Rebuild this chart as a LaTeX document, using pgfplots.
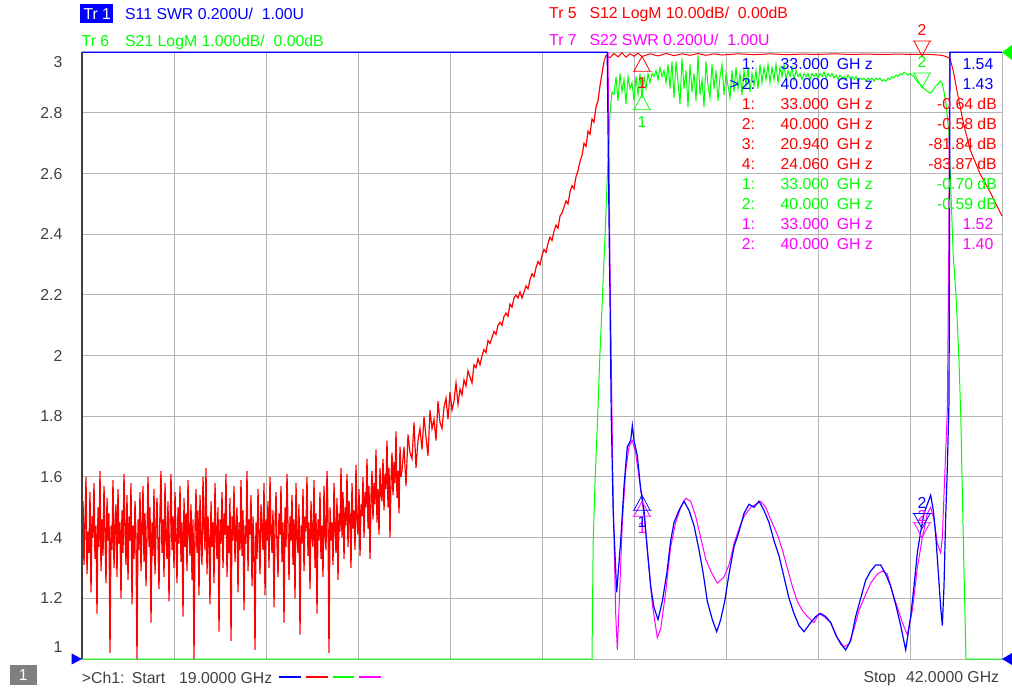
\documentclass[border=0pt]{standalone}
\usepackage{fontspec}
\setmainfont{Liberation Sans}
\usepackage{pgfplots}
\pgfplotsset{compat=1.18}
\usepackage{pgfplotstable}
\definecolor{tblue}{RGB}{0,0,255}
\definecolor{tred}{RGB}{255,0,0}
\definecolor{tgreen}{RGB}{0,255,0}
\definecolor{tmag}{RGB}{255,0,255}
\definecolor{tgray}{RGB}{64,64,64}
\definecolor{gridc}{RGB}{180,180,180}
\definecolor{boxgray}{RGB}{128,128,128}

\pgfdeclareplotmark{mup}{%
  \pgfpathmoveto{\pgfpoint{0pt}{0pt}}%
  \pgfpathlineto{\pgfpoint{-8pt}{-15pt}}%
  \pgfpathlineto{\pgfpoint{8pt}{-15pt}}%
  \pgfpathclose
  \pgfpathmoveto{\pgfpoint{-9.5pt}{-15pt}}%
  \pgfpathlineto{\pgfpoint{9.5pt}{-15pt}}%
  \pgfusepathqstroke}
\pgfdeclareplotmark{mdown}{%
  \pgfpathmoveto{\pgfpoint{0pt}{0pt}}%
  \pgfpathlineto{\pgfpoint{-8pt}{15pt}}%
  \pgfpathlineto{\pgfpoint{8pt}{15pt}}%
  \pgfpathclose
  \pgfpathmoveto{\pgfpoint{-9.5pt}{15pt}}%
  \pgfpathlineto{\pgfpoint{9.5pt}{15pt}}%
  \pgfusepathqstroke}

% S12 (red) stop band, 19.000 GHz onward, step 0.025 GHz, display units
\pgfplotstableread[row sep=\\]{
v\\
1.38\\1.52\\1.31\\1.45\\1.60\\1.28\\1.42\\1.35\\1.55\\1.22\\1.47\\1.40\\1.58\\1.33\\1.44\\1.15\\1.50\\1.37\\1.62\\1.29\\
1.46\\1.34\\1.57\\1.41\\1.25\\1.53\\1.39\\1.48\\1.02\\1.44\\1.36\\1.59\\1.30\\1.43\\1.51\\1.27\\1.56\\1.38\\1.45\\1.20\\
1.49\\1.35\\1.61\\1.42\\1.31\\1.54\\1.26\\1.47\\1.39\\1.58\\1.18\\1.44\\1.33\\1.52\\1.40\\1.00\\1.46\\1.36\\1.55\\1.29\\
1.43\\1.57\\1.32\\1.48\\1.24\\1.41\\1.60\\1.37\\1.50\\1.12\\1.45\\1.34\\1.56\\1.28\\1.42\\1.53\\1.38\\1.23\\1.49\\1.62\\
1.35\\1.46\\1.27\\1.58\\1.40\\1.33\\1.52\\1.19\\1.44\\1.61\\1.36\\1.47\\1.30\\1.55\\1.41\\1.25\\1.50\\1.38\\1.57\\1.32\\
1.45\\1.14\\1.53\\1.37\\1.48\\1.29\\1.59\\1.42\\1.34\\1.51\\1.26\\1.46\\1.00\\1.43\\1.56\\1.35\\1.49\\1.21\\1.54\\1.39\\
1.31\\1.60\\1.44\\1.36\\1.63\\1.28\\1.47\\1.40\\1.18\\1.52\\1.37\\1.45\\1.25\\1.58\\1.42\\1.33\\1.50\\1.09\\1.46\\1.38\\
1.55\\1.30\\1.48\\1.41\\1.61\\1.27\\1.44\\1.35\\1.53\\1.06\\1.47\\1.39\\1.57\\1.32\\1.43\\1.50\\1.22\\1.45\\1.36\\1.59\\
1.34\\1.49\\1.16\\1.44\\1.38\\1.62\\1.29\\1.46\\1.41\\1.54\\1.24\\1.47\\1.37\\1.03\\1.45\\1.33\\1.56\\1.40\\1.28\\1.51\\
1.43\\1.36\\1.58\\1.21\\1.46\\1.39\\1.52\\1.30\\1.60\\1.42\\1.35\\1.49\\1.17\\1.44\\1.55\\1.38\\1.27\\1.48\\1.41\\1.57\\
1.32\\1.45\\1.12\\1.50\\1.37\\1.61\\1.43\\1.26\\1.47\\1.39\\1.54\\1.31\\1.46\\1.20\\1.58\\1.40\\1.35\\1.51\\1.08\\1.44\\
1.38\\1.56\\1.29\\1.47\\1.42\\1.60\\1.34\\1.45\\1.23\\1.52\\1.40\\1.37\\1.59\\1.30\\1.48\\1.15\\1.46\\1.39\\1.55\\1.33\\
1.44\\1.27\\1.57\\1.41\\1.36\\1.62\\1.47\\1.02\\1.50\\1.39\\1.45\\1.31\\1.58\\1.43\\1.35\\1.53\\1.26\\1.48\\1.42\\1.63\\
1.40\\1.55\\1.33\\1.50\\1.44\\1.61\\1.37\\1.52\\1.47\\1.30\\1.58\\1.43\\1.49\\1.36\\1.64\\1.45\\1.41\\1.56\\1.34\\1.51\\
1.47\\1.60\\1.40\\1.55\\1.50\\1.66\\1.43\\1.57\\1.33\\1.53\\1.62\\1.46\\1.58\\1.51\\1.69\\1.45\\1.56\\1.41\\1.63\\1.54\\
1.52\\1.66\\1.49\\1.61\\1.56\\1.72\\1.50\\1.63\\1.40\\1.59\\1.68\\1.54\\1.65\\1.58\\1.75\\1.53\\1.62\\1.48\\1.70\\1.60\\
}\rednoise

% S12 (red) rising edge, 27.00 GHz onward, step 0.05 GHz, display units
\pgfplotstableread[row sep=\\]{
v\\
1.62\\1.70\\1.57\\1.74\\1.68\\1.66\\1.78\\1.63\\1.72\\1.76\\
1.69\\1.80\\1.73\\1.67\\1.82\\1.76\\1.79\\1.72\\1.85\\1.78\\
1.76\\1.83\\1.86\\1.79\\1.88\\1.82\\1.85\\1.91\\1.84\\1.89\\
1.87\\1.92\\1.90\\1.95\\1.93\\1.91\\1.97\\1.96\\1.99\\1.97\\
2.00\\2.02\\2.01\\2.05\\2.04\\2.06\\2.08\\2.07\\2.10\\2.11\\
2.10\\2.13\\2.14\\2.13\\2.17\\2.16\\2.19\\2.20\\2.19\\2.21\\
2.19\\2.21\\2.23\\2.22\\2.25\\2.27\\2.26\\2.29\\2.31\\2.30\\
2.33\\2.35\\2.34\\2.37\\2.39\\2.38\\2.41\\2.43\\2.42\\2.46\\
2.47\\2.49\\2.51\\2.50\\2.54\\2.56\\2.55\\2.59\\2.61\\2.64\\
2.66\\2.70\\2.69\\2.74\\2.73\\2.78\\2.77\\2.82\\2.84\\2.89\\
2.93\\2.97\\
}\redrise

% S21 (green) in-band part, 32.30 GHz onward, step 0.05 GHz, display units
\pgfplotstableread[row sep=\\]{
v\\
2.86\\2.92\\2.84\\2.93\\2.87\\2.91\\2.83\\2.92\\2.88\\2.90\\
2.84\\2.92\\2.86\\2.93\\2.85\\2.92\\2.88\\2.93\\2.90\\2.93\\
2.92\\2.94\\2.91\\2.95\\2.92\\2.94\\2.90\\2.96\\2.88\\2.97\\
2.85\\2.97\\2.90\\2.83\\2.98\\2.88\\2.94\\2.82\\2.96\\2.87\\
2.93\\2.84\\2.99\\2.86\\2.91\\2.82\\2.97\\2.89\\2.85\\2.96\\
2.88\\2.94\\2.84\\2.92\\2.96\\2.86\\2.93\\2.89\\2.85\\2.94\\
2.87\\2.95\\2.88\\2.93\\2.86\\2.94\\2.89\\2.95\\2.87\\2.93\\
2.89\\2.94\\2.88\\2.96\\2.90\\2.95\\2.91\\2.96\\2.90\\2.95\\
2.91\\2.96\\2.90\\2.95\\2.92\\2.96\\2.91\\2.94\\2.92\\2.95\\
2.91\\2.94\\2.92\\2.93\\2.91\\2.93\\2.92\\2.93\\2.91\\2.93\\
2.92\\2.93\\2.915\\2.93\\2.92\\2.935\\2.915\\2.93\\2.92\\2.93\\
2.915\\2.925\\2.91\\2.925\\2.915\\2.92\\2.91\\2.925\\2.915\\2.92\\
2.91\\2.92\\2.905\\2.915\\2.91\\2.915\\2.905\\2.915\\2.91\\2.915\\
2.905\\2.915\\2.91\\2.915\\2.905\\2.91\\2.905\\2.915\\2.91\\2.92\\
2.915\\2.925\\2.92\\2.93\\2.925\\2.935\\2.93\\2.925\\2.93\\2.925\\
2.92\\2.91\\2.90\\2.895\\2.89\\2.88\\2.875\\2.87\\2.865\\2.87\\
2.88\\2.89\\2.895\\2.905\\2.90\\2.87\\2.83\\
}\greennoise

\begin{document}
\begin{tikzpicture}[x=1pt,y=1pt,font=\fontsize{15.8}{19}\selectfont]
\useasboundingbox (0,0) rectangle (1012,689);
\begin{axis}[
  at={(82pt,30pt)}, anchor=south west,
  scale only axis, width=920pt, height=606.7pt,
  xmin=19, xmax=42, ymin=1, ymax=3,
  clip=false,
  xtick={19,21.3,23.6,25.9,28.2,30.5,32.8,35.1,37.4,39.7,42},
  xticklabels={},
  ytick={1,1.2,1.4,1.6,1.8,2,2.2,2.4,2.6,2.8,3},
  yticklabels={,1.2,1.4,1.6,1.8,2,2.2,2.4,2.6,2.8,},
  /pgf/number format/assume math mode=true,
  yticklabel style={anchor=east, inner sep=0pt, xshift=-19.5pt, text=tgray,
    font=\fontsize{15.8}{19}\selectfont},
  major tick length=0pt,
  grid=major,
  major grid style={gridc, line width=1pt},
  axis line style={gridc, line width=1pt},
]
% S21 (green)
\addplot[tgreen, line width=1pt] coordinates {
 (19,1) (31.75,1) (31.78,1.39) (31.83,1.6) (31.88,1.76) (31.95,2.01)
 (32.0,2.16) (32.08,2.41) (32.13,2.58) (32.2,2.80) (32.25,2.87) (32.30,2.86)};
\addplot[tgreen, line width=1pt] table[x expr=32.3+0.05*\coordindex, y=v] {\greennoise};
\addplot[tgreen, line width=1pt] coordinates {
 (40.60,2.83) (40.67,2.74) (40.72,2.55) (40.78,2.33) (40.85,2.20) (40.92,2.0)
 (40.97,1.80) (41.03,1.41) (41.1,1.0) (42,1.0)};
% S12 (red)
\addplot[tred, line width=1.3pt] table[x expr=19+0.025*\coordindex, y=v] {\rednoise};
\addplot[tred, line width=1.2pt] coordinates {(26.975,1.60) (27.0,1.62)};
\addplot[tred, line width=1.2pt] table[x expr=27+0.05*\coordindex, y=v] {\redrise};
\addplot[tred, line width=1pt] coordinates {
 (32.05,2.97) (32.1,2.99) (32.2,2.982) (32.3,2.996) (32.4,2.985) (32.5,2.998)
 (32.6,2.984) (32.7,2.995) (32.8,2.987) (32.9,2.997) (33.0,2.986) (33.2,2.995)
 (33.4,2.988) (33.6,2.996) (33.8,2.989) (34.0,2.995) (34.2,2.99) (34.4,2.996)
 (34.6,2.99) (34.8,2.995) (35.0,2.991) (35.4,2.995) (35.8,2.992) (36.2,2.995)
 (36.6,2.992) (37.0,2.994) (37.4,2.993) (37.8,2.995) (38.2,2.993) (38.6,2.994)
 (39.0,2.993) (39.4,2.994) (39.8,2.993) (40.2,2.993) (40.5,2.99) (40.6,2.986)
 (40.7,2.98) (40.78,2.94) (40.87,2.876) (41.03,2.77) (41.2,2.68) (41.45,2.60)
 (41.7,2.54) (42,2.46)};
% S22 (magenta)
\addplot[tmag, line width=1pt] coordinates {
 (19,3) (32.15,3) (32.2,2.3) (32.27,1.6) (32.3,1.40) (32.342,1.15) (32.383,1.03)
 (32.45,1.25) (32.508,1.45) (32.592,1.62) (32.675,1.70) (32.758,1.72) (32.842,1.68)
 (32.925,1.60) (33.008,1.52) (33.092,1.42) (33.175,1.30) (33.258,1.18) (33.383,1.07)
 (33.467,1.10) (33.592,1.22) (33.717,1.37) (33.842,1.45) (33.967,1.50) (34.092,1.53)
 (34.217,1.52) (34.342,1.47) (34.467,1.40) (34.592,1.33) (34.717,1.29) (34.883,1.25)
 (35.05,1.27) (35.175,1.31) (35.3,1.38) (35.425,1.43) (35.55,1.47) (35.717,1.50)
 (35.842,1.51) (35.967,1.52) (36.092,1.50) (36.217,1.46) (36.383,1.41) (36.508,1.36)
 (36.633,1.30) (36.758,1.24) (36.883,1.19) (37.008,1.16) (37.133,1.14) (37.3,1.12)
 (37.425,1.15) (37.55,1.14) (37.717,1.12) (37.883,1.07) (38.05,1.04) (38.175,1.05)
 (38.3,1.10) (38.425,1.16) (38.55,1.20) (38.717,1.25) (38.883,1.28) (39.008,1.29)
 (39.133,1.28) (39.258,1.22) (39.383,1.17) (39.508,1.12) (39.633,1.08) (39.758,1.16)
 (39.883,1.30) (40.008,1.40) (40.133,1.48) (40.217,1.50) (40.3,1.46) (40.383,1.38)
 (40.467,1.35) (40.508,1.40) (40.567,1.60) (40.633,1.82) (40.667,2.3) (40.69,3) (42,3)};
% S11 (blue)
\addplot[tblue, line width=1.2pt] coordinates {
 (19,3) (32.13,3) (32.18,2.39) (32.2,2.19) (32.23,1.81) (32.28,1.48) (32.367,1.22)
 (32.467,1.39) (32.55,1.57) (32.633,1.70) (32.717,1.72) (32.758,1.77) (32.8,1.72)
 (32.883,1.67) (32.967,1.56) (33.05,1.49) (33.133,1.36) (33.217,1.24) (33.3,1.17)
 (33.4,1.13) (33.508,1.19) (33.617,1.28) (33.717,1.39) (33.8,1.45) (33.925,1.49)
 (34.05,1.52) (34.175,1.49) (34.3,1.44) (34.425,1.36) (34.533,1.28) (34.633,1.19)
 (34.758,1.13) (34.867,1.09) (34.967,1.13) (35.067,1.19) (35.175,1.28) (35.3,1.37)
 (35.425,1.42) (35.55,1.48) (35.675,1.51) (35.8,1.50) (35.925,1.52) (36.05,1.49)
 (36.175,1.45) (36.3,1.39) (36.425,1.34) (36.55,1.27) (36.675,1.20) (36.8,1.15)
 (36.925,1.11) (37.05,1.09) (37.217,1.12) (37.342,1.14) (37.467,1.15) (37.592,1.14)
 (37.717,1.12) (37.842,1.08) (37.967,1.05) (38.092,1.03) (38.217,1.06) (38.342,1.14)
 (38.467,1.20) (38.592,1.26) (38.717,1.29) (38.842,1.31) (38.967,1.31) (39.092,1.28)
 (39.217,1.24) (39.342,1.18) (39.467,1.11) (39.592,1.03) (39.717,1.14) (39.8,1.24)
 (39.883,1.35) (39.967,1.42) (40.05,1.48) (40.133,1.51) (40.217,1.54) (40.283,1.49)
 (40.342,1.41) (40.4,1.30) (40.467,1.17) (40.508,1.11) (40.55,1.24) (40.592,1.47)
 (40.633,1.63) (40.675,1.85) (40.70,3) (42,3)};
% left axis line
\draw[tgray, line width=1.2pt] (rel axis cs:0,0) -- (rel axis cs:0,1);
% markers
\addplot[only marks, mark=mup, tred, line width=0.8pt] coordinates {(33,2.987)};
\addplot[only marks, mark=mdown, tred, line width=0.8pt] coordinates {(40,2.988)};
\addplot[only marks, mark=mup, tgreen, line width=0.8pt] coordinates {(33,2.86)};
\addplot[only marks, mark=mdown, tgreen, line width=0.8pt] coordinates {(40,2.882)};
\addplot[only marks, mark=mup, tmag, line width=0.8pt] coordinates {(33,1.52)};
\addplot[only marks, mark=mdown, tmag, line width=0.8pt] coordinates {(40,1.40)};
\addplot[only marks, mark=mup, tblue, line width=0.8pt] coordinates {(33,1.54)};
\addplot[only marks, mark=mdown, tblue, line width=0.8pt] coordinates {(40,1.43)};
\node[text=tred, inner sep=0pt, yshift=-27pt] at (axis cs:33,2.987) {1};
\node[text=tgreen, inner sep=0pt, yshift=-27pt] at (axis cs:33,2.86) {1};
\node[text=tred, inner sep=0pt, yshift=26pt] at (axis cs:40,2.988) {2};
\node[text=tgreen, inner sep=0pt, yshift=26pt] at (axis cs:40,2.882) {2};
\node[text=tmag, inner sep=0pt, yshift=-27pt] at (axis cs:33,1.52) {1};
\node[text=tblue, inner sep=0pt, yshift=-27pt] at (axis cs:33,1.54) {1};
\node[text=tmag, inner sep=0pt, yshift=22pt] at (axis cs:40,1.40) {2};
\node[text=tblue, inner sep=0pt, yshift=26pt] at (axis cs:40,1.43) {2};
\end{axis}

% end y labels
\node[anchor=east, inner sep=0pt, text=tgray] at (62.5,627) {3};
\node[anchor=east, inner sep=0pt, text=tgray] at (62.5,42) {1};

% header
\fill[tblue] (80,665.7) rectangle (112.7,685);
\node[anchor=base west, inner sep=0pt, text=white] at (83.3,669.7) {Tr~1};
\node[anchor=base west, inner sep=0pt, text=tblue] at (125,669.7) {S11 SWR 0.200U/~~1.00U};
\node[anchor=base west, inner sep=0pt, text=tgreen] at (81.5,642.3) {Tr~6};
\node[anchor=base west, inner sep=0pt, text=tgreen] at (125,642.3) {S21 LogM 1.000dB/~~0.00dB};
\node[anchor=base west, inner sep=0pt, text=tred] at (549,670) {Tr~5};
\node[anchor=base west, inner sep=0pt, text=tred] at (589.3,670) {S12 LogM 10.00dB/~~0.00dB};
\node[anchor=base west, inner sep=0pt, text=tmag] at (549,643.3) {Tr~7};
\node[anchor=base west, inner sep=0pt, text=tmag] at (589.3,643.3) {S22 SWR 0.200U/~~1.00U};

% marker table
\foreach \yy/\col/\n/\fr/\val/\ux in {
  619.5/tblue/1:/33.000/1.54/993.5,
  599.5/tblue/2:/40.000/1.43/993.5,
  579.5/tred/1:/33.000/-0.64 dB/997,
  559.5/tred/2:/40.000/-0.58 dB/997,
  539.5/tred/3:/20.940/-81.84 dB/997,
  519.5/tred/4:/24.060/-83.87 dB/997,
  499.5/tgreen/1:/33.000/-0.70 dB/997,
  479.5/tgreen/2:/40.000/-0.59 dB/997,
  459.5/tmag/1:/33.000/1.52/993.5,
  439.5/tmag/2:/40.000/1.40/993.5} {
  \node[anchor=base west, inner sep=0pt, text=\col] at (741.7,\yy) {\n};
  \node[anchor=base west, inner sep=0pt, text=\col] at (780.5,\yy) {\fr};
  \node[anchor=base west, inner sep=0pt, text=\col] at (836.7,\yy) {GH z};
  \node[anchor=base east, inner sep=0pt, text=\col] at (\ux,\yy) {\val};
}
\node[anchor=base west, inner sep=0pt, text=tblue] at (729.3,599.5) {>};

% bottom bar
\fill[boxgray] (10,4) rectangle (36.7,24);
\node[text=white, inner sep=0pt] at (23.3,14) {1};
\node[anchor=base west, inner sep=0pt, text=tgray] at (81.7,5.7) {>Ch1:};
\node[anchor=base west, inner sep=0pt, text=tgray] at (131.7,5.7) {Start};
\node[anchor=base west, inner sep=0pt, text=tgray] at (179,5.7) {19.0000 GHz};
\draw[tblue, line width=2pt] (279,12.3) -- (301,12.3);
\draw[tred, line width=2pt] (306,12.3) -- (328,12.3);
\draw[tgreen, line width=2pt] (333,12.3) -- (354,12.3);
\draw[tmag, line width=2pt] (359,12.3) -- (381,12.3);
\node[anchor=base west, inner sep=0pt, text=tgray] at (863.3,6.3) {Stop};
\node[anchor=base east, inner sep=0pt, text=tgray] at (999.3,6.3) {42.0000 GHz};

% reference arrows
\fill[tblue] (71.7,35.5) -- (71.7,24.5) -- (82,30) -- cycle;
\fill[tblue] (1012,36) -- (1012,24) -- (1002,30) -- cycle;
\fill[tgreen] (1012,644) -- (1012,629) -- (1002,636.7) -- cycle;
\end{tikzpicture}
\end{document}
